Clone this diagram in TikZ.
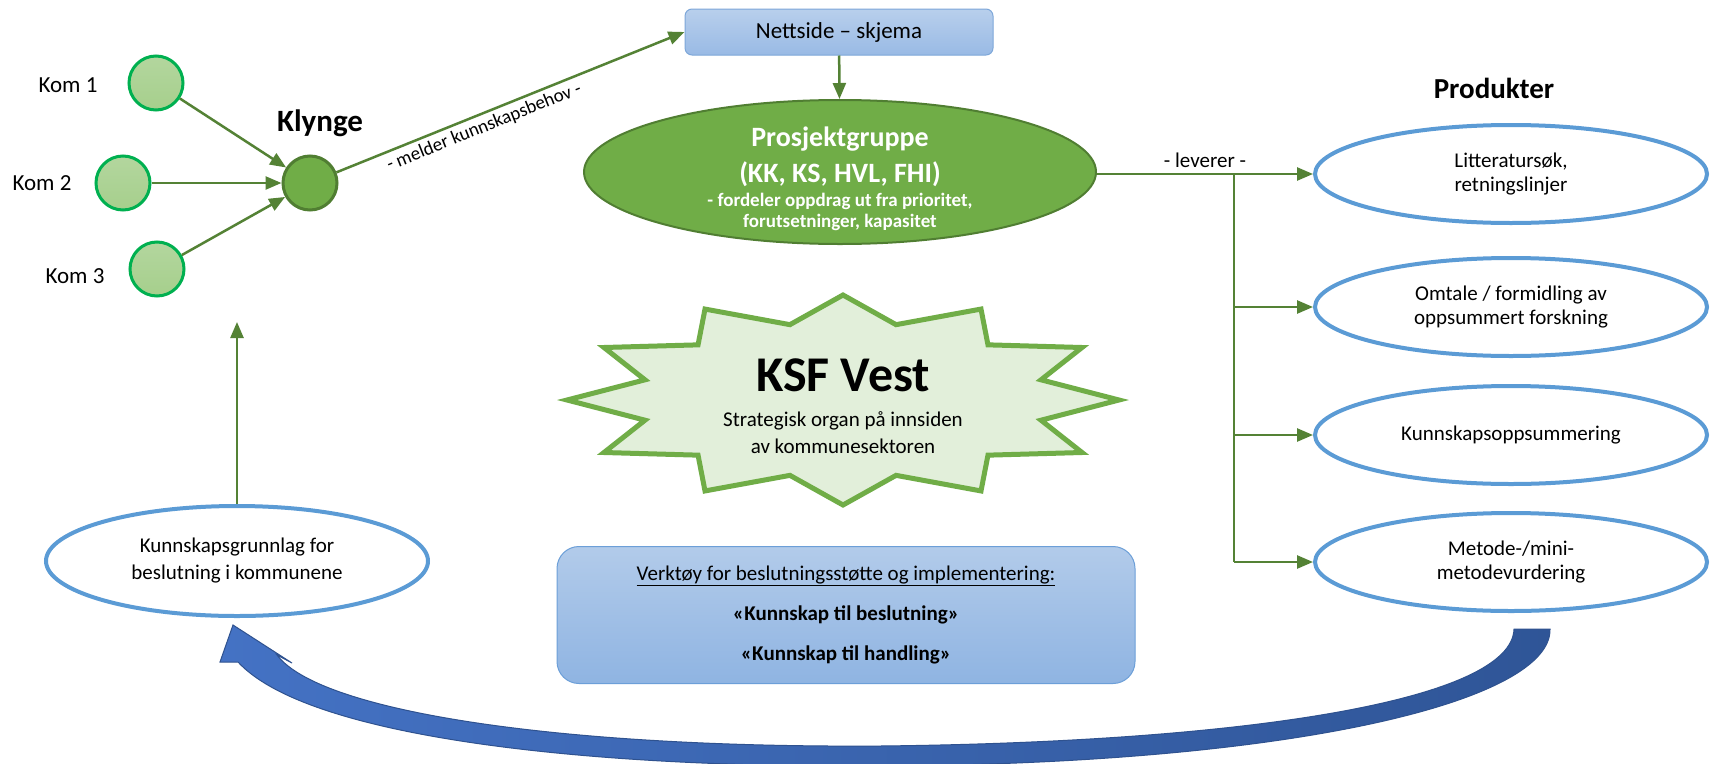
\documentclass[tikz,border=0pt]{standalone}
\usepackage{fontspec}
\setmainfont{Carlito}
\usetikzlibrary{shapes.geometric,arrows.meta}
\newcommand\fsz[2]{\fontsize{#1}{#2}\selectfont}
\definecolor{arrowgreen}{HTML}{548235}
\definecolor{komborder}{HTML}{00B050}
\definecolor{komtop}{HTML}{B3D69E}
\definecolor{kombot}{HTML}{A6CF8C}
\definecolor{darkgreen}{HTML}{70AD47}
\definecolor{greenborder}{HTML}{507E32}
\definecolor{starfill}{HTML}{E2EFDA}
\definecolor{prodblue}{HTML}{5B9BD5}
\definecolor{nettop}{HTML}{B8CFEC}
\definecolor{netbot}{HTML}{99BAE5}
\definecolor{netborder}{HTML}{7DA7D9}
\definecolor{tooltop}{HTML}{B2CBEA}
\definecolor{toolbot}{HTML}{8FB4E2}
\definecolor{toolborder}{HTML}{6C9FD8}
\definecolor{bigleft}{HTML}{4472C4}
\definecolor{bigright}{HTML}{2F5597}
\definecolor{bigborder}{HTML}{2F528F}
\tikzset{
  garrow/.style={draw=arrowgreen, line width=2.5pt, -{Triangle[length=16pt,width=13pt]}},
  gline/.style={draw=arrowgreen, line width=2.5pt},
  kom/.style={ellipse, minimum width=54pt, minimum height=54pt, inner sep=0pt, draw=komborder, line width=3pt, top color=komtop, bottom color=kombot},
  klyngenode/.style={ellipse, minimum width=54pt, minimum height=54pt, inner sep=0pt, draw=greenborder, line width=3pt, fill=darkgreen},
  prod/.style={ellipse, minimum width=392pt, minimum height=98pt, inner sep=0pt, draw=prodblue, line width=4pt, fill=white, align=center, font=\fsz{21}{24}},
  lbl/.style={font=\fsz{23}{27}},
  heading/.style={font=\bfseries\fsz{29}{34}},
  projtext/.style={text=white, font=\bfseries\fsz{28}{32}, inner sep=0pt},
  projsmall/.style={text=white, font=\bfseries\fsz{19}{22}, inner sep=0pt},
  startext/.style={font=\fsz{21}{25}, inner sep=0pt},
}
\begin{document}
\begin{tikzpicture}[x=1pt,y=-1pt]
\useasboundingbox (0,0) rectangle (1712,763);
\fill[white] (0,0) rectangle (1712,763);

% big curved arrow
\path[left color=bigleft, right color=bigright, draw=bigborder, line width=1pt]
  (238,662) -- (220,662) -- (233,625) -- (292,663) -- (277,655)
  .. controls (320,712) and (560,748) .. (880,746)
  .. controls (1250,742) and (1512,700) .. (1514,629)
  -- (1550,629)
  .. controls (1552,700) and (1300,764) .. (880,766)
  .. controls (600,768) and (310,740) .. (238,662) -- cycle;

% star
\begin{scope}[shift={(843,400)}]
\draw[fill=starfill, draw=darkgreen, line width=5pt, line join=miter]
  (0:276pt and 105pt) \foreach \a in {0,30,...,330}{ -- (\a+15:205pt and 78pt) -- (\a+30:276pt and 105pt)} -- cycle;
\end{scope}
\node[font=\bfseries\fsz{50}{52}, inner sep=0pt] (ksf) at (843,375) {KSF Vest};
\node[startext] (ksf2) at (843,421) {Strategisk organ på innsiden};
\node[startext] (ksf3) at (843,446) {av kommunesektoren};

% left cluster
\node[kom] (kom1) at (156,83) {};
\node[kom] (kom2) at (123,183) {};
\node[kom] (kom3) at (157,269) {};
\node[klyngenode] (kly) at (310,183) {};
\node[lbl] (k1lab) at (68,85) {Kom 1};
\node[lbl] (k2lab) at (42,183) {Kom 2};
\node[lbl] (k3lab) at (75,276) {Kom 3};
\node[font=\bfseries\fsz{31}{36}] (klab) at (320,123) {Klynge};
\draw[garrow] (kom1) -- (kly);
\draw[garrow] (kom2) -- (kly);
\draw[garrow] (kom3) -- (kly);

% nettside
\node[rectangle, rounded corners=7pt, minimum width=308pt, minimum height=46pt, top color=nettop, bottom color=netbot, draw=netborder, line width=1pt, font=\fsz{23}{27}] (nett) at (839,32) {Nettside – skjema};
\draw[garrow] (kly) -- node[pos=0.41, sloped, below, font=\fsz{19}{22}, inner sep=4pt] {- melder kunnskapsbehov -} (nett.west);

% prosjektgruppe
\node[ellipse, minimum width=512pt, minimum height=144pt, inner sep=0pt, fill=darkgreen, draw=greenborder, line width=2pt] (proj) at (840,172) {};
\node[projtext] (proj1) at (840,139) {Prosjektgruppe};
\node[projtext] (proj2) at (840,174) {(KK, KS, HVL, FHI)};
\node[projsmall] (proj3) at (840,201) {- fordeler oppdrag ut fra prioritet,};
\node[projsmall] (proj4) at (840,222) {forutsetninger, kapasitet};
\draw[garrow] (nett) -- (proj);

% products
\node[heading] (produkter) at (1494,88) {Produkter};
\node[prod] (lit) at (1511,174) {Litteratursøk,\\retningslinjer};
\node[prod] (omt) at (1511,307) {Omtale / formidling av\\oppsummert forskning};
\node[prod] (kun) at (1511,435) {Kunnskapsoppsummering};
\node[prod] (met) at (1511,562) {Metode-/mini-\\metodevurdering};
\coordinate (j) at (1234,174);
\draw[garrow] (proj.east |- lit) -- node[above, font=\fsz{21}{25}, inner sep=5pt, pos=0.5] {- leverer -} (lit.west);
\draw[gline] (j) -- (j |- met);
\draw[garrow] (j |- omt) -- (omt.west);
\draw[garrow] (j |- kun) -- (kun.west);
\draw[garrow] (j |- met) -- (met.west);

% kunnskapsgrunnlag
\node[ellipse, minimum width=382pt, minimum height=110pt, inner sep=0pt, draw=prodblue, line width=4pt, fill=white, align=center, font=\fsz{21}{27}] (kg) at (237,561) {Kunnskapsgrunnlag for\\beslutning i kommunene};
\coordinate (kgtip) at (237,322);
\draw[garrow] (kg) -- (kgtip);

% tools box
\node[rectangle, rounded corners=22pt, minimum width=578pt, minimum height=137pt, top color=tooltop, bottom color=toolbot, draw=toolborder, line width=1pt, align=center, font=\fsz{21}{40}] (tools) at (846,615)
  {\underline{Verktøy for beslutningsstøtte og implementering:}\\\textbf{«Kunnskap til beslutning»}\\\textbf{«Kunnskap til handling»}};
\end{tikzpicture}
\end{document}
